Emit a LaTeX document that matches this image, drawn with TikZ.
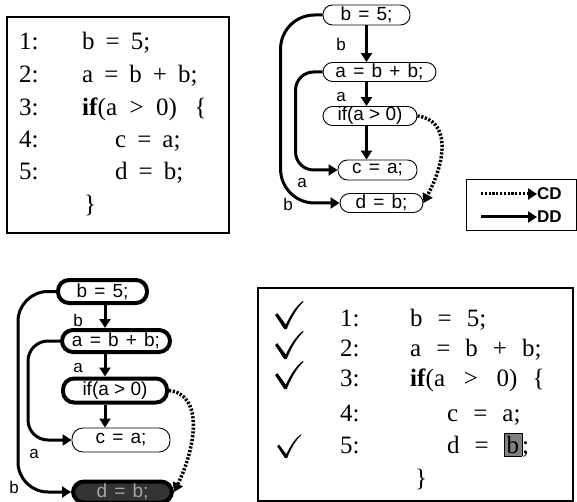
\documentclass[tikz,border=0pt]{standalone}
\usepackage{fontspec}
\setmainfont{Liberation Serif}
\setsansfont{Liberation Sans}
\usetikzlibrary{arrows.meta,calc}
\newcommand\sop[1]{\hspace{0.44em}#1\hspace{0.44em}}
\newcommand\wop[1]{\hspace{0.6em}#1\hspace{0.6em}}
\newcommand\gop[1]{\hspace{0.38em}#1\hspace{0.38em}}
\tikzset{
  code/.style={anchor=base west, inner sep=0pt, font=\fontsize{25}{25}\selectfont},
  gnode/.style={draw, line width=0.9pt, rounded corners=9.5pt, inner sep=0pt,
    font=\sffamily\fontsize{19}{19}\selectfont},
  hnode/.style={draw, line width=4pt, rounded corners=11pt, inner sep=0pt,
    font=\sffamily\fontsize{19}{19}\selectfont},
  dd/.style={line width=3pt, -{Triangle[length=9pt,width=11pt]}},
  cd/.style={line width=3.5pt, dash pattern=on 2.2pt off 1.6pt, -{Triangle[length=9pt,width=11pt]}},
  lbl/.style={inner sep=0pt, font=\sffamily\fontsize{17}{17}\selectfont},
  frame/.style={draw, line width=1.3pt},
  chkmark/.pic={\fill (-14,-1) -- (-11.6,-2.8) -- (-3.2,8.6) .. controls (2,-2) and (7,-10) .. (14,-15)
      -- (14.5,-14.2) .. controls (8,-8) and (2,2) .. (-2.2,13) -- (-4.8,13) -- cycle;}
}
\begin{document}
\begin{tikzpicture}[x=1pt,y=-1pt]
\useasboundingbox (0,0) rectangle (577,502);

% ---------- top-left code box ----------
\draw[frame] (7,17) rectangle (229,233);
\node[code] (a1n) at (19,50) {1:};
\node[code] (a1c) at (82,50) {b\sop{=}5;};
\node[code] (a2n) at (19,83) {2:};
\node[code] (a2c) at (82,83) {a\sop{=}b\sop{+}b;};
\node[code] (a3n) at (19,116) {3:};
\node[code] (a3c) at (82,116) {\textbf{if}(a\hspace{0.5em}>\hspace{0.5em}0)\hspace{0.7em}\{};
\node[code] (a4n) at (19,148) {4:};
\node[code] (a4c) at (115,148) {c\sop{=}a;};
\node[code] (a5n) at (19,180) {5:};
\node[code] (a5c) at (115,180) {d\sop{=}b;};
\node[code] (a6c) at (84,213) {\}};

% ---------- top-right graph ----------
\node[gnode, minimum width=87pt, minimum height=20pt] (t1) at (366.5,15) {b\gop{=}5;};
\node[gnode, minimum width=113pt, minimum height=19pt] (t2) at (379.5,72) {a\gop{=}b\gop{+}b;};
\node[gnode, minimum width=94pt, minimum height=19pt] (t3) at (370,116) {if(a > 0)};
\node[gnode, minimum width=79pt, minimum height=20pt] (t4) at (377.5,170) {c\gop{=}a;};
\node[gnode, minimum width=83pt, minimum height=19pt] (t5) at (381.5,203) {d\gop{=}b;};

\draw[dd] (t1.south) -- (t1.south |- t2.north);
\draw[dd] (t1.south |- t2.south) -- (t1.south |- t3.north);
\draw[dd] (t1.south |- t3.south) -- (t1.south |- t4.north);
\draw[dd, rounded corners=18pt] (t2.west) -- ++(-27,0) |- (t4.west);
\draw[dd, rounded corners=34pt] (t1.west) -- ++(-42,0) |- (t5.west);
\draw[cd] (t3.east) .. controls +(32,4) and +(24,-45) .. (t5.east);
\node[lbl] (tlb) at (341,44) {b};
\node[lbl] (tla) at (341,97) {a};
\node[lbl] (tla2) at (302,183) {a};
\node[lbl] (tlb2) at (288,204) {b};

% legend
\draw[line width=1pt] (466,180) rectangle (576,231);
\coordinate (cdA) at (481,194);
\coordinate (cdB) at (537,194);
\coordinate (ddA) at (481,217);
\coordinate (ddB) at (537,217);
\draw[cd, line width=3pt] (cdA) -- (cdB);
\draw[dd] (ddA) -- (ddB);
\node[lbl, anchor=west, font=\sffamily\bfseries\fontsize{17}{17}\selectfont] (cdT) at (cdB) {CD};
\node[lbl, anchor=west, font=\sffamily\bfseries\fontsize{17}{17}\selectfont] (ddT) at (ddB) {DD};

% ---------- bottom-left graph ----------
\node[hnode, minimum width=89pt, minimum height=23pt] (b1) at (102.5,291.5) {b\gop{=}5;};
\node[hnode, minimum width=108pt, minimum height=22pt] (b2) at (116,341) {a\gop{=}b\gop{+}b;};
\node[hnode, minimum width=104pt, minimum height=24pt] (b3) at (115,390.5) {if(a > 0)};
\node[gnode, rounded corners=11pt, minimum width=98pt, minimum height=24pt] (b4) at (121,440) {c\gop{=}a;};
\node[hnode, fill=black!80, text=black!35, minimum width=99pt, minimum height=21pt] (b5) at (122.5,492) {d\gop{=}b;};

\draw[dd] (b1.south -| 105,0) -- (b2.north -| 105,0);
\draw[dd] (b2.south -| 105,0) -- (b3.north -| 105,0);
\draw[dd] (b3.south -| 105,0) -- (b4.north -| 105,0);
\draw[dd, rounded corners=20pt] (b2.west) -- ++(-32,0) |- (b4.west);
\draw[dd, rounded corners=30pt] (b1.west) -- ++(-38,0) |- (b5.west);
\draw[cd] (b3.east) .. controls +(35,4) and +(22,-45) .. (b5.east);
\node[lbl] (blb) at (78,320) {b};
\node[lbl] (bla) at (78,368) {a};
\node[lbl] (bla2) at (34,454) {a};
\node[lbl] (blb2) at (14,487) {b};

% ---------- bottom-right code box ----------
\draw[frame] (258,288) rectangle (573,501);
\pic at (289,316) {chkmark};
\pic at (289,346) {chkmark};
\pic at (289,376) {chkmark};
\pic[scale=0.85] at (289,447) {chkmark};
\node[code] (c1n) at (340,326) {1:};
\node[code] (c1c) at (410,326) {b\wop{=}5;};
\node[code] (c2n) at (340,356) {2:};
\node[code] (c2c) at (410,356) {a\wop{=}b\wop{+}b;};
\node[code] (c3n) at (340,386) {3:};
\node[code] (c3c) at (410,386) {\textbf{if}(a\hspace{0.75em}>\hspace{0.75em}0)\hspace{0.6em}\{};
\node[code] (c4n) at (340,421) {4:};
\node[code] (c4c) at (447,421) {c\wop{=}a;};
\node[code] (c5n) at (340,453) {5:};
\node[code] (c5c) at (447,453) {d\wop{=}{\setlength\fboxsep{2.5pt}\fcolorbox{black}{black!50}{b}};};
\node[code] (c6c) at (415,486) {\}};
\end{tikzpicture}
\end{document}
